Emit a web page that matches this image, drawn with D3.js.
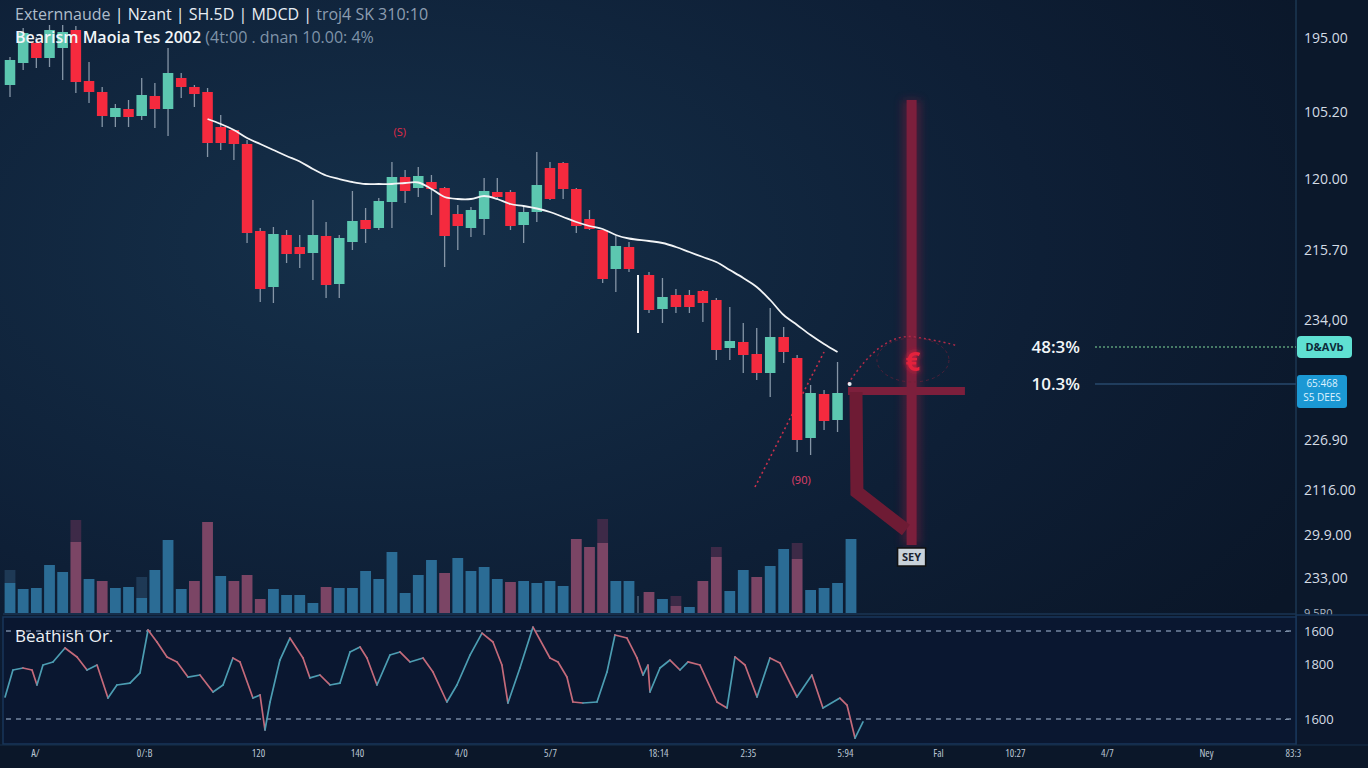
<!DOCTYPE html>
<html><head><meta charset="utf-8">
<script src="https://cdn.jsdelivr.net/npm/d3@7"></script>
<style>html,body{margin:0;padding:0;background:#0b1729;overflow:hidden}svg{display:block}</style>
</head><body><svg id="c" width="1368" height="768"></svg>
<script>
// ---------- DATA ----------
const opens  = [183,187.4,191.4,188.4,190.4,194,183.8,181.6,176.6,178.2,176.8,180.8,178.2,184.4,182.6,181.6,174.6,174,171.2,153.8,142.6,153,150.6,149.4,152.8,143.2,151.6,156,154.4,159.6,164.6,162.4,163.6,162.4,157.2,154.4,156.2,161.6,161.6,155,157.6,166.4,167.4,162.2,156.2,154,146.2,150.6,145,138.2,141,141,141.8,140,130.4,131.6,129.2,125.4,132.6,128.4,112.4,121.2,116];
const highs  = [188.6,194.4,192.6,195,195,194.8,187.6,182.6,179.2,180,184.4,183.4,190.4,185.4,183,182.4,177,174,172,154.4,154.6,154,153,160,155.6,153,161.8,158.4,160.4,167.6,166,166.6,165,162.6,159,158.6,164.4,164.4,162,158.6,169.6,167.6,167.6,162.4,158,154,152.8,151.6,145.6,144.4,142.2,142,142,140.4,138.6,135.4,134.4,138.4,134.6,129,123,122,127.6];
const lows   = [180.6,186,186.4,186.6,184,181.4,179.4,174.6,174.6,174.6,176,174.4,172.8,180.4,178.6,168.6,170,168,151.4,139.6,139.4,147.4,146.4,144,140.4,140.4,150,151.4,154,154.4,159.4,160.6,157,146.6,150,152.6,153,160,154,151.4,155.6,160,160.2,153.4,154,143.4,141.6,145.6,137.4,135.4,137.4,137.4,135.6,128,128,125.4,124,120.6,127.4,109.6,109,114,113.6];
const closes = [188,193.4,188.4,194,193.6,183.6,181.6,176.8,178.4,176.6,181,178.2,185.4,182.6,181.2,171.4,171.4,171.2,153.4,142.2,153.2,149.2,149.2,153,143,152.4,155.8,154.2,159.8,164.6,161.8,164.8,162.2,152.8,154.8,158,161.8,160.6,154.8,157.6,163,160.2,162.2,154.8,154.2,144.2,150.8,146.2,138,140.6,138.6,138.6,139.4,130,131.8,129,125.4,132.6,129.6,112,121.4,115.8,121.4];
const maStart = 15;
const maValues = [176.2,175.2,174,172.4,171.2,170,168.8,167.7,166.2,164.9,164.2,163.6,163.2,163.2,163.2,163.4,163.5,162.2,160.6,160.2,160.2,160.8,160.2,159.2,158.8,158.3,157.6,156.6,155.6,154.8,154.2,153,152.3,151.8,151.4,150.6,149.6,148.6,147.6,146,144.4,142.6,140,137,135,133,131.2,129.6];
const volumes = [30,24,25,48,41,71,34,32,25,26,15,43,73,24,32,91,37,32,38,14,24,18,18,10,26,25,25,42,34,61,20,38,53,40,55,42,46,34,31,32,30,32,27,74,66,70,32,32,21,14,7,6,32,56,22,43,36,47,64,54,23,25,30,74];
const volumeDown = [5,7,14,15,17,18,19,24,33,38,43,44,45,48,50,52,53,56,59];
const volumeShadowIdx = [0,5,10,45,50,53,59];
const volumeShadowVal = [43,93,36,94,17,66,70];
const oscT = [-0.37,0.22,0.97,1.65,2.02,2.47,3.22,4.12,5.02,5.77,6.52,7.34,8.01,8.99,9.74,10.34,11.01,11.76,12.51,13.33,14.23,15.21,15.96,16.70,17.23,18.20,18.73,19.10,19.48,20.22,20.97,21.95,22.47,23.22,23.97,24.72,25.47,26.22,26.74,27.49,28.46,29.21,29.96,30.94,31.69,32.73,33.48,34.46,35.36,36.18,36.85,37.30,38.20,39.18,40.45,41.05,41.72,42.17,42.92,43.97,44.72,45.32,46.22,46.97,47.42,47.79,47.94,48.69,49.44,50.19,50.79,51.69,52.96,53.71,54.31,55.06,55.96,56.93,57.68,58.95,60.07,60.90,62.17,62.70,63.30,63.90];
const oscV = [35.0,53.4,54.8,53.4,43.2,56.8,58.9,68.4,62.3,53.4,56.8,34.3,43.2,44.5,51.4,80.7,72.5,62.3,58.9,48.6,50.0,38.4,43.2,61.6,58.9,34.3,36.4,12.5,31.6,60.2,75.2,61.6,48.0,50.0,43.2,44.5,65.7,69.1,61.6,43.2,63.6,65.7,58.9,61.6,52.0,31.6,43.2,63.6,78.6,72.5,56.8,30.9,54.8,82.7,61.6,58.9,48.6,31.6,30.9,31.6,52.0,77.3,75.2,61.6,50.0,56.8,38.4,54.8,60.2,53.4,58.9,56.8,31.6,27.5,62.3,56.8,35.0,61.6,58.2,35.0,50.0,27.5,34.3,29.5,7.0,18.0];
const oscLevels = [80, 20];
const priceTicks = [192.4,177.6,164.2,150,136,112,102,93,84.4];
const priceTickLabels = ["195.00","105.20","120.00","215.70","234,00","226.90","2116.00","29.9.00","233,00"];
const priceCutTick = 77.4, priceCutLabel = "9.5R0";
const oscTicks = [80,57,20];
const oscTickLabels = ["1600","1800","1600"];
const timeTicks = [1.87,10.04,18.58,25.99,33.78,40.45,48.54,55.28,62.55,69.51,75.28,82.17,89.59,96.1];
const timeTickLabels = ["A/","0/:B","120","140","4/0","5/7","18:14","2:35","5:94","Fal","10:27","4/7","Ney","83:3"];
const levelPrices = [130.6, 123.2];
const levelLabels = ["48:3%","10.3%"];
const titleParts = [["Externnaude ","#aebccb",400],["| Nzant | SH.5D | MDCD | ","#e8eef4",500],["troj4 SK 310:10","#8d9db0",400]];
const subtitleParts = [["Bearism Maoia Tes 2002 ","#f2f5f8",600],["(4t:00 . dnan 10.00: 4%","#7f93a8",400]];

// ---------- SCALES ----------
const svg = d3.select('#c');
const xBar = d3.scaleLinear().domain([0,47,48,63]).range([10,629,649,851]);
const xTime = d3.scaleLinear().domain([0,63]).range([10,851]);
const yP = d3.scaleLinear().domain([80,200]).range([600,0]);
const yV = d3.scaleLinear().domain([0,100]).range([613,513]);
const yO = d3.scaleLinear().domain([20,80]).range([719,631]);

// ---------- BACKGROUND ----------
const defs = svg.append('defs');
const rg = defs.append('radialGradient').attr('id','bg').attr('cx','28%').attr('cy','32%').attr('r','80%');
rg.append('stop').attr('offset','0%').attr('stop-color','#15304a');
rg.append('stop').attr('offset','60%').attr('stop-color','#0e1f36');
rg.append('stop').attr('offset','100%').attr('stop-color','#0a1628');
const glow = defs.append('filter').attr('id','glow').attr('x','-50%').attr('y','-50%').attr('width','200%').attr('height','200%');
glow.append('feGaussianBlur').attr('stdDeviation',3).attr('result','b');
const fm = glow.append('feMerge'); fm.append('feMergeNode').attr('in','b'); fm.append('feMergeNode').attr('in','SourceGraphic');
const soft = defs.append('filter').attr('id','soft').attr('x','-50%').attr('y','-50%').attr('width','200%').attr('height','200%');
soft.append('feGaussianBlur').attr('stdDeviation',4);

svg.append('rect').attr('width',1368).attr('height',768).attr('fill','url(#bg)');
svg.append('rect').attr('x',1296).attr('y',0).attr('width',72).attr('height',768).attr('fill','#0b182b');

// cut price label (half hidden under the oscillator panel)
svg.append('text').attr('x',1304).attr('y',yP(priceCutTick)).attr('dy','0.35em')
  .attr('font-family','Open Sans').attr('font-size',11).attr('fill','#aab6c4').text(priceCutLabel);

svg.append('line').attr('x1',1296).attr('x2',1296).attr('y1',0).attr('y2',745).attr('stroke','#1d3753').attr('stroke-width',1.5);
// oscillator panel
svg.append('rect').attr('x',3).attr('y',617).attr('width',1293).attr('height',127).attr('fill','#0a1730').attr('stroke','#19365a').attr('stroke-width',1.5);
svg.append('rect').attr('x',1297).attr('y',615).attr('width',71).attr('height',130).attr('fill','#0b172c');
svg.append('line').attr('x1',1296).attr('x2',1368).attr('y1',615).attr('y2',615).attr('stroke','#19365a').attr('stroke-width',1.5);
svg.append('rect').attr('x',0).attr('y',745).attr('width',1368).attr('height',23).attr('fill','#0b1729');
svg.append('line').attr('x1',0).attr('x2',1368).attr('y1',745).attr('y2',745).attr('stroke','#16304c');
svg.append('line').attr('x1',3).attr('x2',1296).attr('y1',614).attr('y2',614).attr('stroke','#1a3553').attr('stroke-width',1.5);

// ---------- VOLUME ----------
const bwV = (xBar(1)-xBar(0))*0.82;
svg.append('g').selectAll('rect').data(volumeShadowIdx).join('rect')
  .attr('x',i=>xBar(i)-bwV/2).attr('width',bwV)
  .attr('y',(i,k)=>yV(volumeShadowVal[k])).attr('height',(i,k)=>yV(volumes[i])-yV(volumeShadowVal[k]))
  .attr('fill',i=>volumeDown.includes(i)?'#4a2d4c':'#23405e').attr('opacity',0.8);
svg.append('g').selectAll('rect').data(volumes).join('rect')
  .attr('x',(d,i)=>xBar(i)-bwV/2).attr('width',bwV)
  .attr('y',d=>yV(d)).attr('height',d=>yV(0)-yV(d))
  .attr('fill',(d,i)=>volumeDown.includes(i)?'#7b4565':'#2b6c95');

// ---------- RED ANNOTATIONS (behind) ----------
const ann = svg.append('g');
ann.append('line').attr('x1',xBar(55.87)).attr('y1',yP(102.6)).attr('x2',xBar(61.0)).attr('y2',yP(129.6))
  .attr('stroke','#c8304c').attr('stroke-width',1.6).attr('stroke-dasharray','2,3');
ann.append('rect').attr('x',xBar(67.5)-9).attr('width',18).attr('y',yP(180)).attr('height',yP(91)-yP(180))
  .attr('fill','#7a1d3a').attr('opacity',0.5).attr('filter','url(#soft)');
ann.append('rect').attr('x',xBar(67.5)-5).attr('width',10).attr('y',yP(180)).attr('height',yP(91)-yP(180))
  .attr('fill','#7c1f3c');
ann.append('rect').attr('x',xBar(62.78)).attr('width',xBar(71.46)-xBar(62.78)).attr('y',yP(121.8)-4).attr('height',8)
  .attr('fill','#7c1f3c');
ann.append('path').attr('d',d3.line()([[xBar(63.37),yP(121.6)],[xBar(63.44),yP(101.6)],[xBar(67.08),yP(94)]]))
  .attr('fill','none').attr('stroke','#6e1b34').attr('stroke-width',13).attr('stroke-linejoin','miter');
ann.append('path').attr('d',`M${xBar(62.78)},${yP(123.2)} Q${xBar(65.3)},${yP(133.6)} ${xBar(67.7)},${yP(132.6)} T${xBar(70.9)},${yP(130.8)}`)
  .attr('fill','none').attr('stroke','#b02a48').attr('stroke-width',1.5).attr('stroke-dasharray','2,3');
ann.append('ellipse').attr('cx',xBar(67.6)).attr('cy',yP(128)).attr('rx',36).attr('ry',22)
  .attr('fill','none').attr('stroke','#6a2038').attr('stroke-width',1).attr('stroke-dasharray','3,3').attr('opacity',0.7);
ann.append('text').attr('x',xBar(67.6)).attr('y',yP(127.6)).attr('dy','0.35em').attr('text-anchor','middle')
  .attr('font-family','Open Sans').attr('font-weight',700).attr('font-size',26).attr('fill','#e3223d').attr('filter','url(#glow)').text('€');
ann.append('circle').attr('cx',xBar(62.9)).attr('cy',yP(123.2)).attr('r',2).attr('fill','#e8eef4');

svg.append('line').attr('x1',xBar(47.45)).attr('x2',xBar(47.45)).attr('y1',yP(145)).attr('y2',yP(133.4)).attr('stroke','#eef2f6').attr('stroke-width',2);
svg.append('line').attr('x1',xBar(47.45)).attr('x2',xBar(47.45)).attr('y1',yV(17)).attr('y2',yV(0)).attr('stroke','#6d8098').attr('stroke-width',1);

// ---------- CANDLES ----------
const bw = (xBar(1)-xBar(0))*0.8;
const cg = svg.append('g');
cg.selectAll('line').data(opens).join('line')
  .attr('x1',(d,i)=>xBar(i)).attr('x2',(d,i)=>xBar(i))
  .attr('y1',(d,i)=>yP(highs[i])).attr('y2',(d,i)=>yP(lows[i]))
  .attr('stroke','#8595a6').attr('stroke-width',1.3);
cg.selectAll('rect').data(opens).join('rect')
  .attr('x',(d,i)=>xBar(i)-bw/2).attr('width',bw)
  .attr('y',(d,i)=>yP(Math.max(d,closes[i])))
  .attr('height',(d,i)=>Math.max(1.5,Math.abs(yP(d)-yP(closes[i]))))
  .attr('fill',(d,i)=>closes[i]>=d?'#5cc7b0':'#f52a3e');

// ---------- MA ----------
svg.append('path').datum(maValues)
  .attr('d',d3.line().x((d,i)=>xBar(i+maStart)).y(d=>yP(d)).curve(d3.curveCatmullRom))
  .attr('fill','none').attr('stroke','#f2f4f6').attr('stroke-width',1.8);

svg.append('text').attr('x',xBar(29.6)).attr('y',yP(173.6)).attr('dy','0.35em').attr('text-anchor','middle')
  .attr('font-family','Open Sans').attr('font-size',11).attr('fill','#e02a48').text('(S)');
svg.append('text').attr('x',xBar(59.3)).attr('y',yP(104)).attr('dy','0.35em').attr('text-anchor','middle')
  .attr('font-family','Open Sans').attr('font-size',11).attr('fill','#e0406a').text('(90)');
const sg = svg.append('g').attr('transform',`translate(${xBar(67.5)},${yP(88.6)})`);
sg.append('rect').attr('x',-14).attr('y',-9).attr('width',28).attr('height',18).attr('fill','#c9d2da').attr('stroke','#111').attr('stroke-width',1.5);
sg.append('text').attr('text-anchor','middle').attr('dy','0.35em').attr('font-family','Open Sans').attr('font-weight',700).attr('font-size',11).attr('fill','#1a2230').text('SEY');

// ---------- LEVEL LINES ----------
const lv = svg.append('g');
levelPrices.forEach((p,i)=>{
  lv.append('line').attr('x1',1095).attr('x2',1296).attr('y1',yP(p)).attr('y2',yP(p))
    .attr('stroke',i===0?'#5b9c78':'#27486c').attr('stroke-width',i===0?1.3:1.6).attr('stroke-dasharray',i===0?'2,2':null);
  lv.append('text').attr('x',1080).attr('y',yP(p)).attr('dy','0.35em').attr('text-anchor','end')
    .attr('font-family','Open Sans').attr('font-weight',600).attr('font-size',17).attr('fill','#f2f5f8').text(levelLabels[i]);
});

// ---------- AXES ----------
const pa = svg.append('g').attr('transform','translate(1304,0)')
  .call(d3.axisRight(yP).tickValues(priceTicks).tickFormat((d,i)=>priceTickLabels[i]).tickSize(0).tickPadding(0));
pa.select('.domain').remove();
pa.selectAll('text').attr('font-family','Open Sans').attr('font-size',14).attr('font-weight',500).attr('fill','#d4dce5');

const b1 = svg.append('g').attr('transform',`translate(1297,${yP(levelPrices[0])})`);
b1.append('rect').attr('x',0).attr('y',-11).attr('width',55).attr('height',22).attr('rx',4).attr('fill','#5fe0d2');
b1.append('text').attr('x',27.5).attr('dy','0.35em').attr('text-anchor','middle').attr('font-family','Open Sans').attr('font-weight',700).attr('font-size',11).attr('fill','#0d2a3a').text('D&AVb');
const b2 = svg.append('g').attr('transform',`translate(1297,${yP(levelPrices[1])})`);
b2.append('rect').attr('x',0).attr('y',-9).attr('width',50).attr('height',33).attr('rx',3).attr('fill','#1b98d4');
b2.append('text').attr('x',25).attr('y',3).attr('text-anchor','middle').attr('font-family','Open Sans').attr('font-size',10).attr('fill','#dff2ff').text('65:468');
b2.append('text').attr('x',25).attr('y',17).attr('text-anchor','middle').attr('font-family','Open Sans').attr('font-size',10).attr('fill','#dff2ff').text('S5 DEES');

// ---------- OSCILLATOR ----------
const og = svg.append('g');
oscLevels.forEach(v=>{
  og.append('line').attr('x1',6).attr('x2',1292).attr('y1',yO(v)).attr('y2',yO(v))
    .attr('stroke','#8fa3bd').attr('stroke-width',1.3).attr('stroke-dasharray','5,5').attr('opacity',0.8);
});
const pts = oscT.map((t,i)=>[xTime(t),yO(oscV[i])]);
for(let i=1;i<pts.length;i++){
  og.append('line').attr('x1',pts[i-1][0]).attr('y1',pts[i-1][1]).attr('x2',pts[i][0]).attr('y2',pts[i][1])
    .attr('stroke',oscV[i]>=oscV[i-1]?'#4c9db2':'#c46a7a').attr('stroke-width',1.7).attr('stroke-linecap','round');
}
og.append('text').attr('x',15).attr('y',642).attr('font-family','Open Sans').attr('font-size',17).attr('font-weight',500).attr('fill','#eef2f6').text('Beathish Or.');
const oa = svg.append('g').attr('transform','translate(1304,0)')
  .call(d3.axisRight(yO).tickValues(oscTicks).tickFormat((d,i)=>oscTickLabels[i]).tickSize(0).tickPadding(0));
oa.select('.domain').remove();
oa.selectAll('text').attr('font-family','Open Sans').attr('font-size',13).attr('fill','#d4dce5');
const om = svg.append('g').attr('transform','translate(1289,0)')
  .call(d3.axisLeft(yO).tickValues(oscLevels).tickSize(4).tickFormat(''));
om.select('.domain').remove(); om.selectAll('line').attr('stroke','#7d90a8');

// ---------- TIME AXIS ----------
const ta = svg.append('g').attr('transform','translate(0,748)')
  .call(d3.axisBottom(xTime).tickValues(timeTicks).tickFormat((d,i)=>timeTickLabels[i]).tickSize(0).tickPadding(2));
ta.select('.domain').remove();
ta.selectAll('text').attr('font-family','Open Sans').attr('font-size',10.5).attr('font-stretch','condensed').attr('fill','#b9c5d2');

// ---------- TITLES ----------
const t1 = svg.append('text').attr('x',15).attr('y',20).attr('font-family','Open Sans').attr('font-size',16);
titleParts.forEach(p=>t1.append('tspan').attr('fill',p[1]).attr('font-weight',p[2]).text(p[0]));
const t2 = svg.append('text').attr('x',15).attr('y',43).attr('font-family','Open Sans').attr('font-size',16);
subtitleParts.forEach(p=>t2.append('tspan').attr('fill',p[1]).attr('font-weight',p[2]).text(p[0]));
</script></body></html>
